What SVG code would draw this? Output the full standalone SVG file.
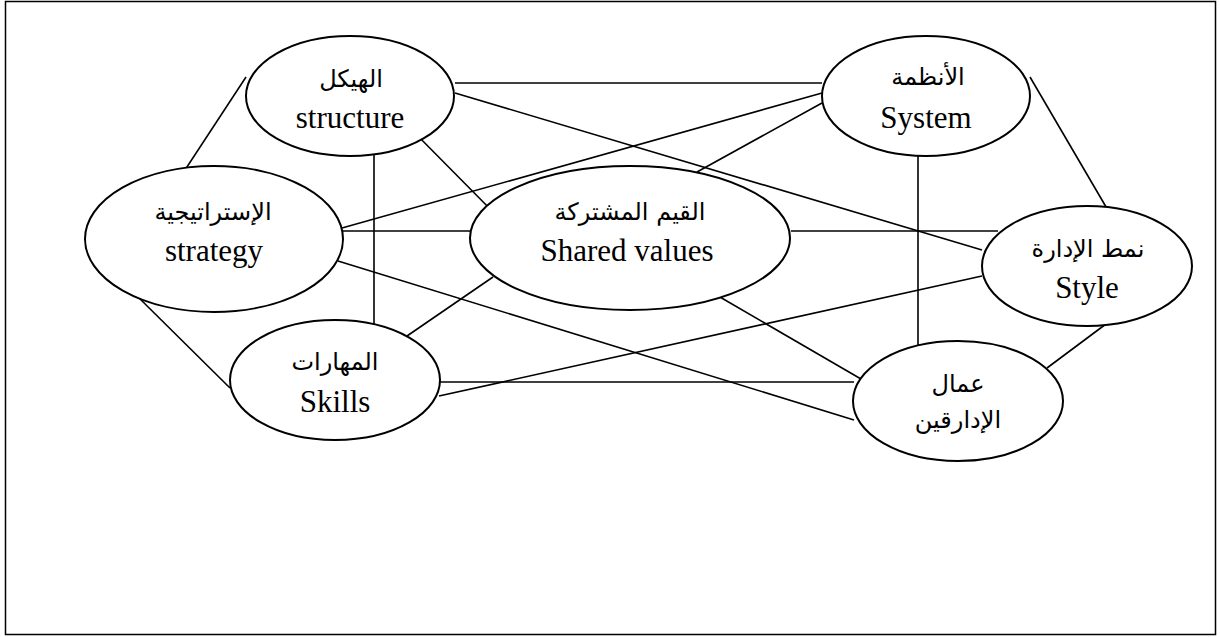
<svg xmlns="http://www.w3.org/2000/svg" width="1220" height="637" viewBox="0 0 1220 637">
  <style>
    .node ellipse { fill: #fff; stroke: #000; stroke-width: 2; }
    .links line { stroke: #000; stroke-width: 1.6; }
    .en { font-family: "Liberation Serif", "Times New Roman", serif; font-size: 31px; fill: #000; text-anchor: middle; }
    .ar { font-family: "DejaVu Sans", "Liberation Sans", sans-serif; font-size: 24px; fill: #000; text-anchor: middle; direction: rtl; }
  </style>
  <rect x="0" y="0" width="1220" height="637" fill="#fff"/>
  <rect x="5.5" y="1.5" width="1210" height="633" fill="none" stroke="#000" stroke-width="1.5"/>

  <!-- connectors -->
  <g id="connectors" class="links">
    <line x1="246" y1="77" x2="183" y2="173"/>
    <line x1="455" y1="83" x2="822" y2="83"/>
    <line x1="455" y1="93" x2="982" y2="250"/>
    <line x1="407" y1="125" x2="502" y2="221"/>
    <line x1="374" y1="150" x2="374" y2="330"/>
    <line x1="342" y1="228" x2="822" y2="93"/>
    <line x1="342" y1="231" x2="470" y2="231"/>
    <line x1="338" y1="261" x2="854" y2="420"/>
    <line x1="134" y1="293" x2="230" y2="388"/>
    <line x1="493" y1="277" x2="407" y2="336"/>
    <line x1="697" y1="172" x2="822" y2="103"/>
    <line x1="791" y1="231" x2="998" y2="231"/>
    <line x1="918" y1="150" x2="918" y2="354"/>
    <line x1="1030" y1="77" x2="1109" y2="212"/>
    <line x1="713" y1="293" x2="861" y2="379"/>
    <line x1="439" y1="396" x2="982" y2="276"/>
    <line x1="439" y1="382" x2="854" y2="382"/>
    <line x1="1110" y1="321" x2="1047" y2="368"/>
  </g>

  <!-- nodes -->
  <g id="structure" class="node">
    <ellipse cx="350" cy="96" rx="104" ry="60"/>
    <text class="ar" x="351" y="87">الهيكل</text>
    <text class="en" x="350" y="128">structure</text>
  </g>
  <g id="system" class="node">
    <ellipse cx="926" cy="96" rx="104" ry="60"/>
    <text class="ar" x="928" y="85">الأنظمة</text>
    <text class="en" x="926" y="128">System</text>
  </g>
  <g id="strategy" class="node">
    <ellipse cx="214" cy="239" rx="129" ry="73"/>
    <text class="ar" x="213" y="220">الإستراتيجية</text>
    <text class="en" x="214" y="261">strategy</text>
  </g>
  <g id="shared-values" class="node">
    <ellipse cx="630" cy="238" rx="160" ry="72"/>
    <text class="ar" x="630" y="220">القيم المشتركة</text>
    <text class="en" x="627" y="261">Shared values</text>
  </g>
  <g id="style" class="node">
    <ellipse cx="1087" cy="266" rx="105" ry="60"/>
    <text class="ar" x="1088" y="257">نمط الإدارة</text>
    <text class="en" x="1087" y="298">Style</text>
  </g>
  <g id="skills" class="node">
    <ellipse cx="335" cy="380" rx="105" ry="60"/>
    <text class="ar" x="335" y="370">المهارات</text>
    <text class="en" x="335" y="412">Skills</text>
  </g>
  <g id="workers" class="node">
    <ellipse cx="958" cy="401" rx="105" ry="60"/>
    <text class="ar" x="958" y="392">عمال</text>
    <text class="ar" x="958" y="428">الإدارقين</text>
  </g>
</svg>
